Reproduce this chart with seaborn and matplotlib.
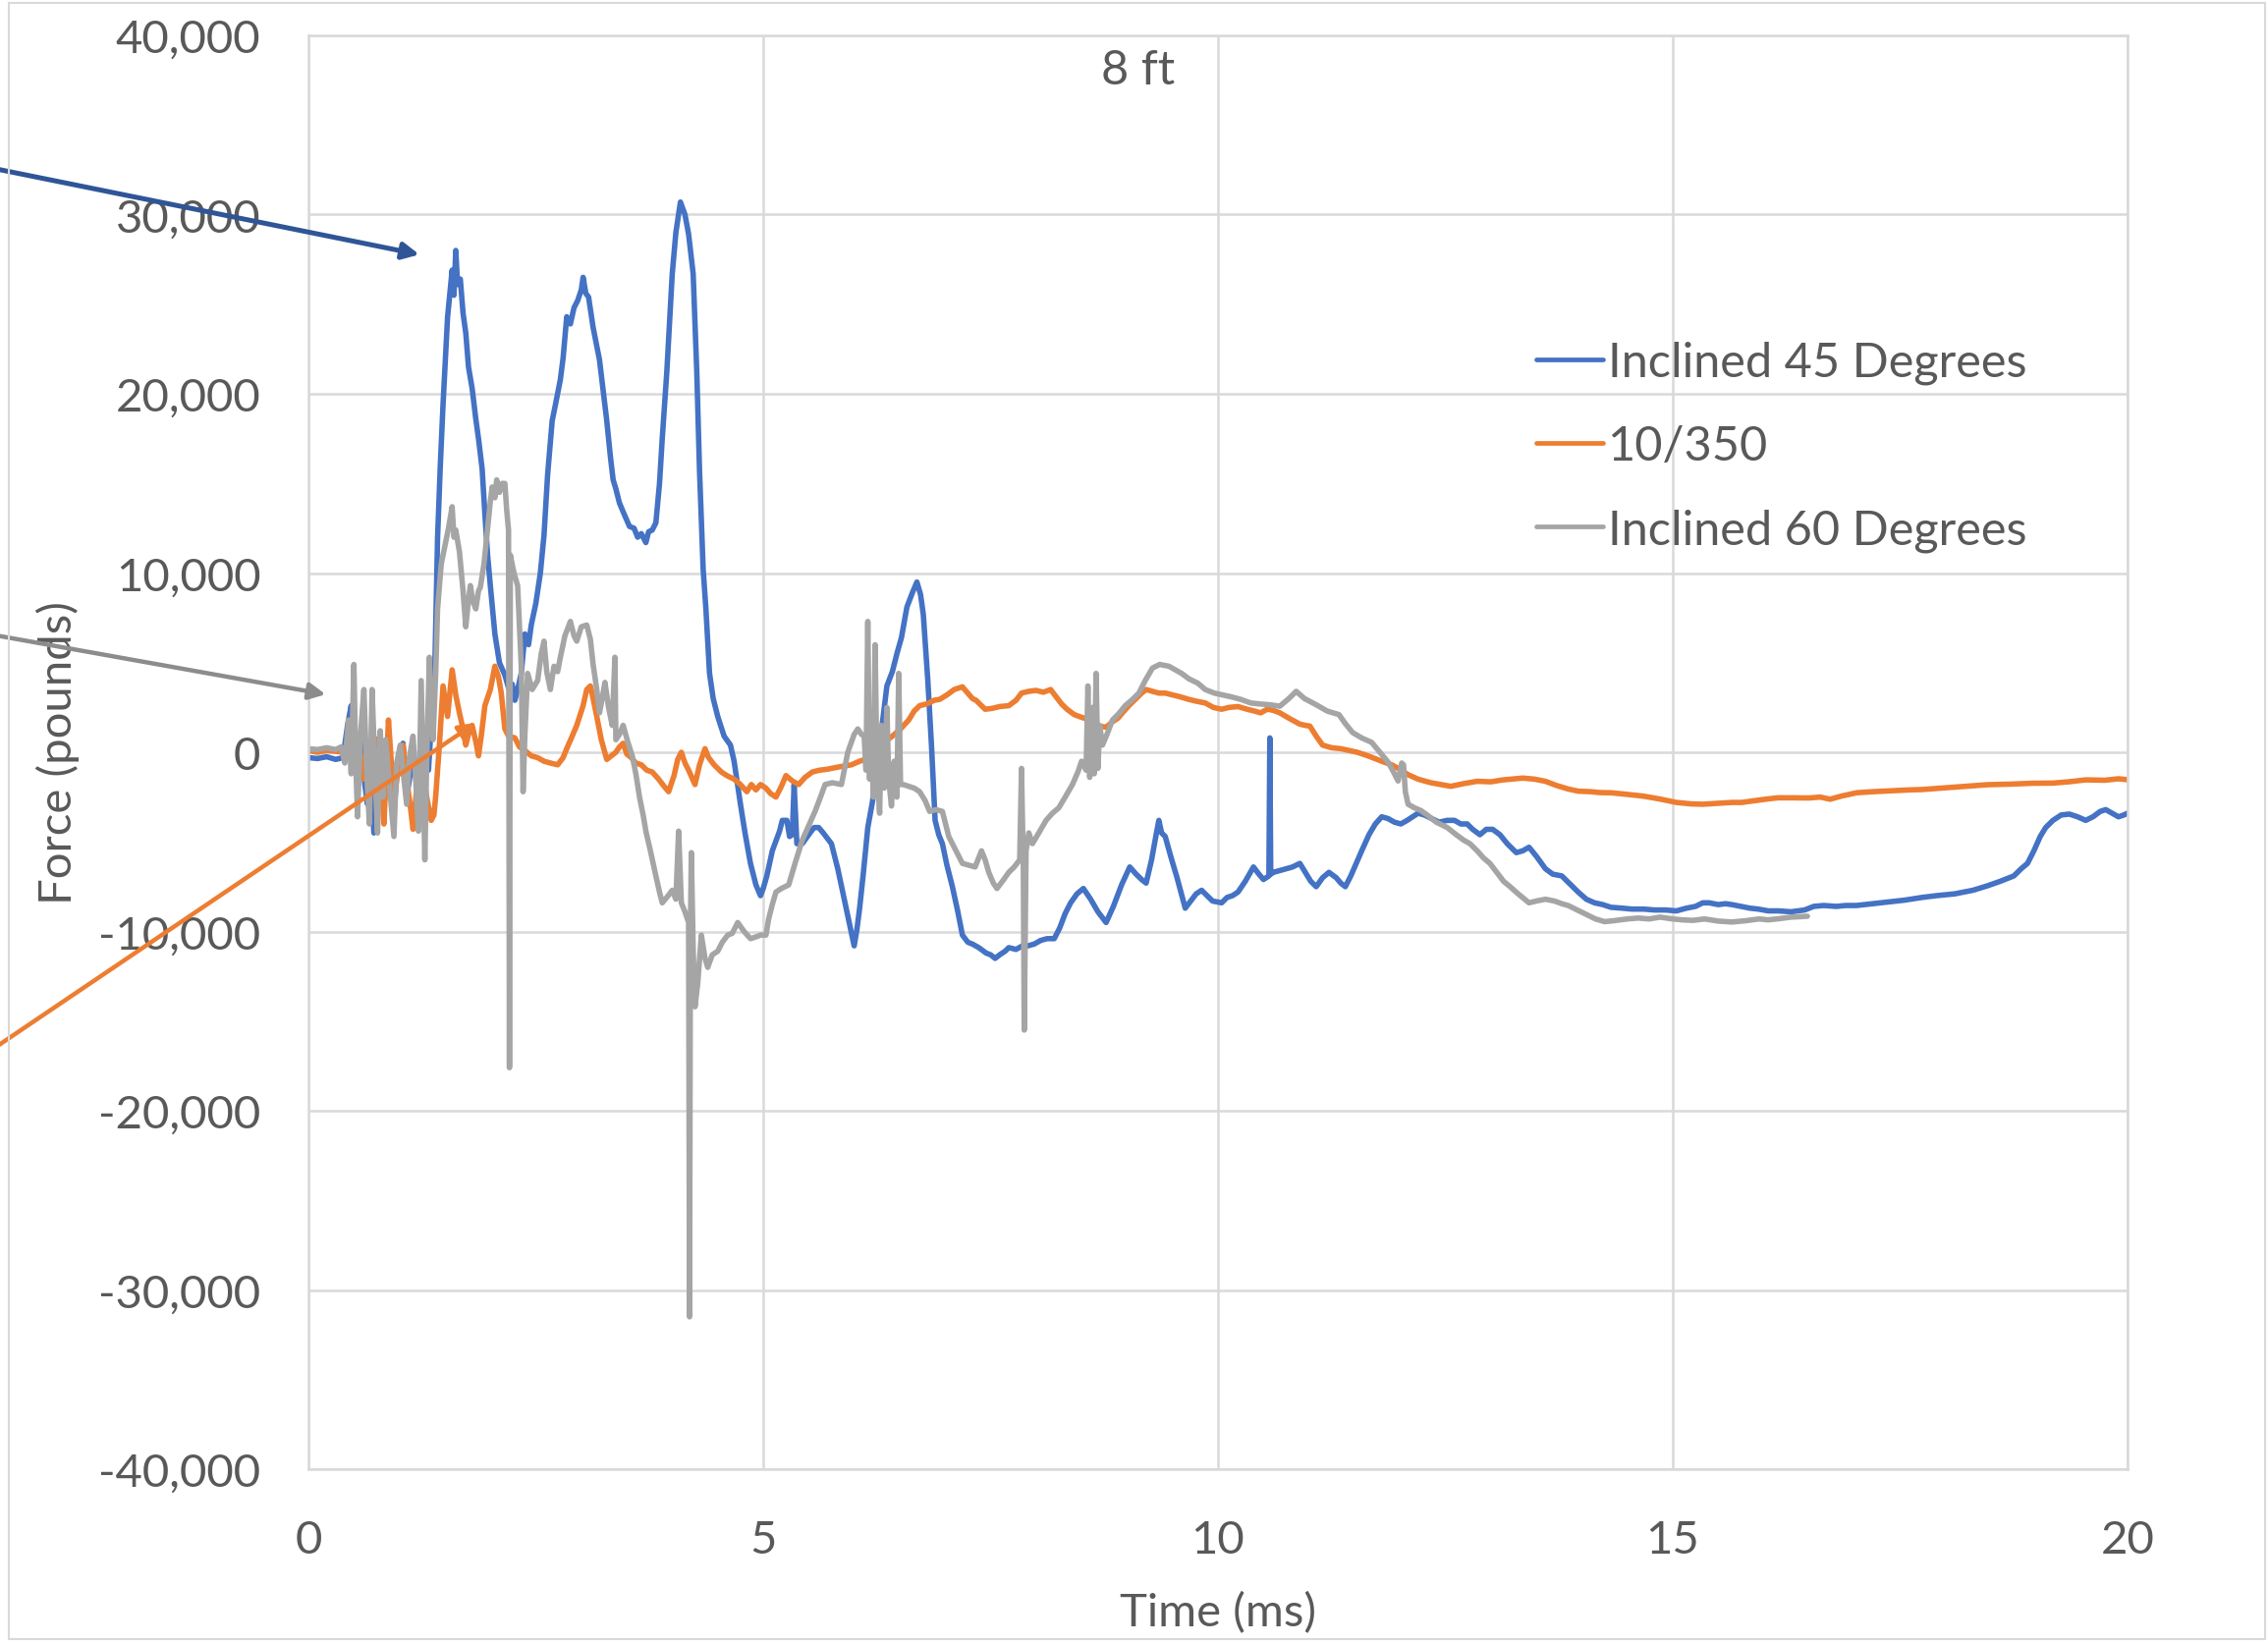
import matplotlib
matplotlib.use("Agg")
import matplotlib.pyplot as plt
from matplotlib.patches import Rectangle
from matplotlib.lines import Line2D
from matplotlib.ticker import FuncFormatter
import pandas as pd
import seaborn as sns

# ---------------- data (time in ms, force in pounds) ----------------
series_names = ["Inclined 45 Degrees", "10/350", "Inclined 60 Degrees"]
series_colors = ["#4472C4", "#ED7D31", "#A5A5A5"]

inclined_45 = [
    (0.00, -300), (0.10, -350), (0.20, -250), (0.30, -400), (0.38, -300), (0.43, 1500),
    (0.47, 2600), (0.50, -800), (0.54, -1100), (0.58, 1200), (0.62, -1800), (0.65, -2900),
    (0.68, -600), (0.72, -4500), (0.76, -1500), (0.79, -1400), (0.83, -3000), (0.87, -500),
    (0.91, -2600), (0.94, -3300), (0.98, -800), (1.01, 300), (1.04, 500), (1.08, -2500),
    (1.12, -1200), (1.16, -700), (1.20, -2000), (1.24, -400), (1.28, 300), (1.32, -1000),
    (1.35, 1500), (1.37, 2600), (1.39, 4800), (1.42, 12000), (1.45, 16000), (1.48, 19400),
    (1.53, 24300), (1.58, 26900), (1.60, 25500), (1.62, 28000), (1.64, 26100), (1.67, 26400),
    (1.70, 24500), (1.73, 23400), (1.76, 21500), (1.80, 20300), (1.84, 18600), (1.87, 17500),
    (1.91, 15800), (1.94, 13300), (1.97, 11000), (2.00, 9300), (2.05, 6600), (2.10, 5000),
    (2.16, 4300), (2.20, 3600), (2.24, 3800), (2.27, 2900), (2.30, 3500), (2.34, 4400),
    (2.38, 6600), (2.42, 6000), (2.45, 7100), (2.50, 8300), (2.55, 10000), (2.59, 12100),
    (2.63, 15500), (2.68, 18500), (2.72, 19500), (2.77, 20800), (2.80, 22000), (2.84, 24300),
    (2.88, 23900), (2.92, 24800), (2.96, 25200), (3.00, 25800), (3.02, 26500), (3.05, 25600),
    (3.08, 25400), (3.13, 23700), (3.20, 21900), (3.24, 20200), (3.28, 18500), (3.32, 16500),
    (3.35, 15200), (3.38, 14700), (3.42, 13900), (3.47, 13300), (3.53, 12600), (3.58, 12500),
    (3.62, 12000), (3.66, 12200), (3.71, 11700), (3.74, 12300), (3.78, 12400), (3.82, 12800),
    (3.86, 15000), (3.89, 17500), (3.94, 21200), (4.00, 26700), (4.04, 29000), (4.09, 30700),
    (4.14, 30000), (4.18, 28900), (4.23, 26700), (4.27, 21200), (4.30, 15700), (4.34, 10200),
    (4.37, 8000), (4.41, 4400), (4.45, 3000), (4.50, 2000), (4.57, 900), (4.64, 400),
    (4.68, -500), (4.75, -2900), (4.80, -4500), (4.86, -6200), (4.92, -7400), (4.97, -8000),
    (5.00, -7600), (5.04, -6900), (5.10, -5500), (5.18, -4400), (5.21, -3800), (5.26, -3800),
    (5.29, -4700), (5.32, -4600), (5.34, -1800), (5.37, -5100), (5.43, -5100), (5.50, -4600),
    (5.56, -4200), (5.61, -4200), (5.66, -4500), (5.75, -5100), (5.82, -6500), (5.90, -8400),
    (5.95, -9600), (6.00, -10800), (6.03, -9900), (6.06, -8700), (6.10, -6800), (6.15, -4200),
    (6.20, -2800), (6.24, -1400), (6.30, 1200), (6.36, 3700), (6.42, 4500), (6.47, 5500),
    (6.52, 6400), (6.58, 8100), (6.64, 8900), (6.69, 9500), (6.73, 8800), (6.76, 7700),
    (6.81, 4000), (6.85, 400), (6.89, -3800), (6.93, -4600), (6.97, -5100), (7.02, -6300),
    (7.08, -7500), (7.14, -8900), (7.19, -10200), (7.25, -10600), (7.30, -10700), (7.37, -10900),
    (7.45, -11200), (7.50, -11300), (7.55, -11500), (7.60, -11300), (7.66, -11100), (7.70, -10900),
    (7.78, -11000), (7.85, -10800), (7.91, -10800), (7.98, -10700), (8.05, -10500), (8.12, -10400),
    (8.20, -10400), (8.26, -9800), (8.32, -9000), (8.38, -8400), (8.45, -7900), (8.52, -7600),
    (8.60, -8200), (8.68, -8900), (8.77, -9500), (8.85, -8600), (8.94, -7400), (9.03, -6400),
    (9.10, -6800), (9.16, -7100), (9.21, -7300), (9.27, -6000), (9.32, -4600), (9.35, -3800),
    (9.38, -4500), (9.42, -4700), (9.48, -5800), (9.55, -7000), (9.64, -8700), (9.70, -8300),
    (9.76, -7900), (9.82, -7700), (9.88, -8000), (9.94, -8300), (10.04, -8400), (10.10, -8100),
    (10.16, -8000), (10.22, -7800), (10.30, -7200), (10.39, -6400), (10.45, -6800), (10.50, -7100),
    (10.56, -6900), (10.57, 800), (10.58, -6800), (10.61, -6700), (10.68, -6600), (10.75, -6500),
    (10.82, -6400), (10.90, -6200), (10.96, -6700), (11.02, -7200), (11.08, -7500), (11.15, -7000),
    (11.22, -6700), (11.30, -7000), (11.35, -7300), (11.40, -7500), (11.46, -6900), (11.52, -6200),
    (11.58, -5500), (11.66, -4600), (11.73, -4000), (11.80, -3600), (11.87, -3700), (11.94, -3900),
    (12.01, -4000), (12.08, -3800), (12.14, -3600), (12.20, -3400), (12.27, -3500), (12.35, -3700),
    (12.43, -3900), (12.52, -3800), (12.60, -3800), (12.67, -4000), (12.74, -4000), (12.80, -4300),
    (12.88, -4600), (12.95, -4300), (13.02, -4300), (13.10, -4600), (13.18, -5100), (13.28, -5600),
    (13.35, -5500), (13.42, -5300), (13.50, -5800), (13.60, -6500), (13.68, -6800), (13.78, -6900),
    (13.86, -7300), (13.96, -7800), (14.05, -8200), (14.14, -8400), (14.23, -8500), (14.32, -8650),
    (14.45, -8700), (14.55, -8750), (14.68, -8750), (14.80, -8800), (14.92, -8800), (15.04, -8850),
    (15.15, -8700), (15.25, -8600), (15.33, -8400), (15.40, -8400), (15.50, -8500), (15.58, -8450),
    (15.65, -8500), (15.75, -8600), (15.85, -8700), (15.94, -8750), (16.05, -8850), (16.16, -8850),
    (16.30, -8900), (16.45, -8800), (16.55, -8600), (16.66, -8550), (16.80, -8600), (16.90, -8550),
    (17.02, -8550), (17.20, -8450), (17.38, -8350), (17.55, -8250), (17.74, -8100), (17.90, -8000),
    (18.10, -7900), (18.30, -7700), (18.46, -7450), (18.60, -7200), (18.75, -6900), (18.83, -6500),
    (18.90, -6200), (18.97, -5500), (19.04, -4700), (19.10, -4200), (19.18, -3800), (19.27, -3500),
    (19.36, -3450), (19.45, -3600), (19.54, -3800), (19.62, -3600), (19.70, -3300), (19.76, -3200),
    (19.83, -3400), (19.90, -3600), (19.96, -3500), (20.00, -3400),
]

wave_10_350 = [
    (0.00, 100), (0.10, 0), (0.20, 100), (0.30, 50), (0.40, 0), (0.50, -200), (0.55, 800),
    (0.60, -1500), (0.65, 500), (0.70, -2000), (0.76, 750), (0.80, -1500), (0.83, -4000),
    (0.88, 1800), (0.91, -500), (0.94, -2900), (0.98, -1000), (1.04, 400), (1.08, -1500),
    (1.12, -3000), (1.15, -4300), (1.19, -2000), (1.22, -3500), (1.26, -1100), (1.30, -2500),
    (1.35, -3800), (1.38, -3500), (1.40, -2400), (1.44, 400), (1.48, 3700), (1.53, 2000),
    (1.58, 4600), (1.62, 3200), (1.66, 2200), (1.70, 1300), (1.73, 400), (1.76, 1000),
    (1.80, 1500), (1.84, 600), (1.87, -200), (1.90, 900), (1.94, 2600), (2.00, 3500),
    (2.05, 4800), (2.09, 4200), (2.12, 3300), (2.16, 1300), (2.20, 900), (2.27, 800),
    (2.32, 300), (2.38, 100), (2.45, -200), (2.52, -300), (2.59, -500), (2.66, -600),
    (2.74, -700), (2.80, -300), (2.84, 200), (2.90, 900), (2.95, 1500), (3.02, 2600),
    (3.06, 3500), (3.10, 3700), (3.13, 3000), (3.17, 2000), (3.22, 700), (3.28, -400),
    (3.33, -200), (3.38, 0), (3.42, 300), (3.46, 500), (3.50, -100), (3.55, -300),
    (3.60, -600), (3.66, -700), (3.72, -1000), (3.78, -1100), (3.85, -1500), (3.91, -1900),
    (3.96, -2200), (4.02, -1300), (4.06, -400), (4.10, 0), (4.14, -600), (4.18, -1000),
    (4.25, -1800), (4.30, -700), (4.36, 200), (4.40, -300), (4.46, -700), (4.54, -1100),
    (4.60, -1300), (4.68, -1500), (4.75, -1800), (4.82, -2200), (4.87, -1800), (4.92, -2100),
    (4.97, -1800), (5.03, -2000), (5.08, -2300), (5.14, -2500), (5.20, -1900), (5.25, -1300),
    (5.32, -1600), (5.39, -1800), (5.46, -1400), (5.54, -1100), (5.62, -1000), (5.70, -950),
    (5.75, -900), (5.85, -800), (5.97, -700), (6.06, -500), (6.15, -350), (6.24, 100),
    (6.33, 550), (6.42, 900), (6.51, 1300), (6.60, 1800), (6.66, 2300), (6.72, 2600),
    (6.80, 2700), (6.88, 2900), (6.94, 2950), (7.02, 3200), (7.10, 3500), (7.19, 3650),
    (7.25, 3300), (7.30, 3000), (7.34, 2900), (7.40, 2600), (7.44, 2400), (7.52, 2450),
    (7.60, 2550), (7.70, 2600), (7.78, 2900), (7.84, 3300), (7.92, 3400), (8.00, 3450),
    (8.08, 3350), (8.16, 3500), (8.22, 3100), (8.28, 2700), (8.34, 2400), (8.42, 2100),
    (8.50, 1950), (8.56, 1850), (8.64, 1600), (8.70, 1450), (8.77, 1400), (8.84, 1700),
    (8.90, 1900), (8.95, 2200), (9.02, 2600), (9.10, 3000), (9.16, 3300), (9.21, 3500),
    (9.28, 3400), (9.35, 3300), (9.42, 3300), (9.50, 3200), (9.58, 3100), (9.68, 2950),
    (9.76, 2850), (9.86, 2750), (9.95, 2500), (10.04, 2400), (10.12, 2500), (10.22, 2550),
    (10.32, 2400), (10.40, 2300), (10.47, 2200), (10.54, 2400), (10.60, 2350), (10.68, 2200),
    (10.78, 1900), (10.90, 1570), (10.96, 1500), (11.01, 1460), (11.08, 900), (11.15, 400),
    (11.25, 250), (11.35, 200), (11.44, 100), (11.53, 0), (11.62, -150), (11.70, -300),
    (11.80, -500), (11.91, -700), (12.00, -950), (12.09, -1250), (12.20, -1500), (12.34, -1700),
    (12.45, -1800), (12.56, -1900), (12.70, -1750), (12.85, -1620), (13.00, -1650), (13.12, -1550),
    (13.22, -1500), (13.35, -1440), (13.48, -1500), (13.60, -1620), (13.72, -1850), (13.85, -2050),
    (13.96, -2170), (14.10, -2200), (14.20, -2250), (14.32, -2260), (14.50, -2350), (14.68, -2450),
    (14.85, -2600), (15.04, -2800), (15.20, -2880), (15.33, -2900), (15.50, -2850), (15.65, -2800),
    (15.76, -2800), (15.90, -2700), (16.05, -2600), (16.16, -2540), (16.30, -2540), (16.50, -2550),
    (16.62, -2500), (16.73, -2620), (16.85, -2450), (17.02, -2260), (17.20, -2200), (17.40, -2150),
    (17.60, -2100), (17.74, -2080), (17.95, -2000), (18.20, -1900), (18.46, -1810), (18.70, -1780),
    (18.95, -1730), (19.18, -1720), (19.35, -1650), (19.54, -1540), (19.75, -1560), (19.90, -1480),
    (20.00, -1530),
]

inclined_60 = [
    (0.00, 200), (0.10, 150), (0.20, 250), (0.30, 150), (0.36, 300), (0.40, -600), (0.44, 1800),
    (0.47, -1200), (0.50, 4900), (0.52, -500), (0.54, -3600), (0.57, 800), (0.61, 3500),
    (0.64, -1000), (0.67, -4000), (0.70, 3500), (0.73, -800), (0.76, -4500), (0.79, 1200),
    (0.82, -2500), (0.85, 700), (0.89, -1800), (0.94, -4700), (0.97, -600), (1.01, 400),
    (1.05, -1500), (1.08, -2900), (1.11, -300), (1.15, 900), (1.18, -1600), (1.21, -4400),
    (1.24, 4000), (1.26, -1000), (1.28, -6000), (1.30, -500), (1.33, 5300), (1.35, 2000),
    (1.37, 700), (1.40, 4500), (1.42, 8000), (1.46, 10500), (1.50, 11500), (1.54, 12500),
    (1.58, 13700), (1.60, 12000), (1.62, 12400), (1.66, 11200), (1.70, 9000), (1.73, 7000),
    (1.76, 8500), (1.78, 9300), (1.81, 8400), (1.84, 8000), (1.87, 9000), (1.89, 9200),
    (1.93, 10500), (1.96, 12000), (2.00, 14000), (2.02, 14800), (2.05, 14200), (2.07, 15200),
    (2.10, 14500), (2.13, 15000), (2.16, 15000), (2.18, 13500), (2.20, 12400), (2.21, -17600),
    (2.22, 11000), (2.26, 10000), (2.30, 9300), (2.34, 4800), (2.36, -2200), (2.38, 1000),
    (2.41, 4400), (2.46, 3500), (2.52, 4000), (2.56, 5500), (2.59, 6200), (2.62, 4500),
    (2.66, 3500), (2.70, 4800), (2.74, 4500), (2.77, 5300), (2.82, 6500), (2.88, 7300),
    (2.92, 6500), (2.95, 6200), (3.00, 7000), (3.06, 7100), (3.10, 6300), (3.13, 4900),
    (3.17, 3500), (3.20, 2200), (3.23, 3000), (3.26, 3900), (3.30, 2500), (3.34, 1500),
    (3.37, 5300), (3.38, 700), (3.42, 1000), (3.46, 1500), (3.51, 600), (3.56, -200),
    (3.60, -1200), (3.64, -2500), (3.68, -3500), (3.71, -4400), (3.76, -5500), (3.82, -6900),
    (3.86, -7800), (3.89, -8400), (3.94, -8100), (4.00, -7700), (4.04, -8200), (4.07, -4400),
    (4.10, -8400), (4.14, -8900), (4.18, -9500), (4.19, -31500), (4.20, -9800), (4.21, -5600),
    (4.23, -11000), (4.25, -14200), (4.28, -12900), (4.32, -10200), (4.36, -11500), (4.39, -12000),
    (4.44, -11300), (4.50, -11100), (4.55, -10600), (4.61, -10200), (4.66, -10100), (4.72, -9500),
    (4.79, -10000), (4.86, -10400), (4.92, -10300), (4.97, -10200), (5.03, -10200), (5.06, -9300),
    (5.10, -8500), (5.14, -7800), (5.20, -7600), (5.28, -7400), (5.35, -6200), (5.43, -4900),
    (5.50, -4100), (5.57, -3300), (5.63, -2500), (5.68, -1800), (5.76, -1700), (5.86, -1800),
    (5.93, 0), (6.00, 1000), (6.04, 1300), (6.08, 1000), (6.11, 900), (6.13, -1000),
    (6.15, 7300), (6.17, -1500), (6.19, 2000), (6.21, -2500), (6.23, 6000), (6.25, -800),
    (6.28, -3400), (6.30, 1500), (6.33, -2000), (6.36, 2500), (6.38, -1500), (6.41, -3000),
    (6.44, -500), (6.47, -2500), (6.49, 4400), (6.51, -1800), (6.54, -1800), (6.60, -1900),
    (6.66, -2000), (6.72, -2200), (6.78, -2700), (6.83, -3300), (6.90, -3200), (6.97, -3300),
    (7.04, -4700), (7.10, -5300), (7.19, -6200), (7.26, -6300), (7.33, -6400), (7.40, -5500),
    (7.44, -6000), (7.48, -6700), (7.53, -7300), (7.57, -7600), (7.63, -7200), (7.70, -6700),
    (7.76, -6400), (7.82, -6000), (7.84, -900), (7.86, -6500), (7.87, -15500), (7.89, -5500),
    (7.92, -4500), (7.96, -5100), (8.03, -4500), (8.11, -3800), (8.18, -3400), (8.25, -3100),
    (8.32, -2500), (8.40, -1800), (8.46, -1100), (8.50, -500), (8.55, -1000), (8.57, 3700),
    (8.59, -1400), (8.62, 2500), (8.64, -1200), (8.66, 4400), (8.68, -900), (8.70, 1500),
    (8.73, 400), (8.78, 1000), (8.84, 1800), (8.90, 2100), (8.98, 2600), (9.05, 2900),
    (9.13, 3300), (9.20, 4000), (9.28, 4700), (9.36, 4900), (9.46, 4800), (9.53, 4600),
    (9.60, 4400), (9.68, 4100), (9.78, 3850), (9.86, 3500), (9.96, 3300), (10.05, 3200),
    (10.14, 3100), (10.25, 2950), (10.36, 2750), (10.45, 2700), (10.57, 2650), (10.68, 2570),
    (10.78, 3000), (10.86, 3400), (10.95, 3000), (11.08, 2650), (11.20, 2300), (11.33, 2100),
    (11.40, 1600), (11.48, 1100), (11.58, 800), (11.69, 550), (11.78, 0), (11.87, -550),
    (11.93, -1100), (11.98, -1600), (12.02, -600), (12.04, -700), (12.06, -2200), (12.09, -2900),
    (12.16, -3100), (12.23, -3250), (12.30, -3500), (12.40, -3900), (12.52, -4200), (12.62, -4600),
    (12.70, -4900), (12.77, -5100), (12.85, -5500), (12.92, -5900), (12.99, -6200), (13.08, -6800),
    (13.14, -7200), (13.20, -7450), (13.30, -7900), (13.42, -8400), (13.50, -8300), (13.60, -8200),
    (13.70, -8300), (13.78, -8450), (13.85, -8550), (13.95, -8800), (14.07, -9100), (14.15, -9300),
    (14.25, -9450), (14.35, -9400), (14.50, -9300), (14.62, -9250), (14.74, -9300), (14.86, -9200),
    (15.00, -9300), (15.10, -9350), (15.22, -9380), (15.35, -9300), (15.50, -9420), (15.65, -9470),
    (15.80, -9400), (15.95, -9300), (16.05, -9350), (16.16, -9290), (16.30, -9200), (16.48, -9150),
]

x_ticks = [0, 5, 10, 15, 20]
y_ticks = [-40000, -30000, -20000, -10000, 0, 10000, 20000, 30000, 40000]
title_text = "8 ft"
x_label = "Time (ms)"
y_label = "Force (pounds)"

# ---------------- build long-form table ----------------
rows = []
for name, pts in zip(series_names, [inclined_45, wave_10_350, inclined_60]):
    for i, (t, f) in enumerate(pts):
        rows.append({"t": t, "F": f, "series": name, "order": i})
df = pd.DataFrame(rows)

# ---------------- styling ----------------
sns.set_theme(style="white")
plt.rcParams["font.family"] = ["Lato", "DejaVu Sans"]
TEXT = "#595959"
GRID = "#D9D9D9"
W, H = 2309, 1674
LW = 4.0

fig = plt.figure(figsize=(W / 100, H / 100), dpi=100)
fig.patch.set_facecolor("white")
ax = fig.add_axes([314 / W, 1 - 1497 / H, (2166 - 314) / W, (1497 - 37) / H])

sns.lineplot(
    data=df, x="t", y="F", hue="series", hue_order=series_names,
    palette=dict(zip(series_names, series_colors)), estimator=None, sort=False,
    units="series", legend=False, linewidth=LW, ax=ax,
)

ax.set_xlim(0, 20)
ax.set_ylim(-40000, 40000)
ax.set_xticks(x_ticks)
ax.set_yticks(y_ticks)
ax.yaxis.set_major_formatter(FuncFormatter(lambda v, p: f"{int(v):,}"))
ax.grid(True, color=GRID, linewidth=1.8)
ax.set_axisbelow(True)
for sp in ax.spines.values():
    sp.set_color(GRID)
    sp.set_linewidth(1.8)
ax.tick_params(axis="both", length=0, labelsize=34, labelcolor=TEXT)
ax.tick_params(axis="y", pad=35)
ax.tick_params(axis="x", pad=37)

ax.set_xlabel(x_label, fontsize=34, color=TEXT)
ax.xaxis.set_label_coords(0.5, (1497 - 1643) / 1460)
ax.xaxis.label.set_va("center")
ax.set_ylabel(y_label, fontsize=34, color=TEXT)
ax.yaxis.set_label_coords((59 - 314) / 1852, 0.5)
ax.yaxis.label.set_va("center")

ax.text((1159 - 314) / 1852, 1 - (72 - 37) / 1460, title_text, transform=ax.transAxes,
        ha="center", va="center", fontsize=35, color=TEXT)

handles = [Line2D([], [], color=c, lw=3.4) for c in series_colors]
leg = ax.legend(handles, series_names, loc="upper left", bbox_to_anchor=(0.675, 0.787),
                frameon=False, fontsize=35, handlelength=1.39, handletextpad=0.1,
                labelspacing=0.84, borderpad=0, borderaxespad=0, labelcolor=TEXT)

# pointer arrows from the left margin
arrow_specs = [
    ((1.22, 27770), (-4, H - 173), "#2F5597", 3.6),
    ((0.19, 3230), (-4, H - 648), "#8C8C8C", 3.2),
    ((1.84, 1640), (-4, H - 1067), "#ED7D31", 3.2),
]
for tip, tail, col, lw in arrow_specs:
    ax.annotate("", xy=tip, xycoords="data", xytext=tail, textcoords="figure pixels",
                arrowprops=dict(arrowstyle="-|>", color=col, lw=lw, mutation_scale=25,
                                shrinkA=0, shrinkB=0),
                annotation_clip=False)

# outer chart border
fig.add_artist(Rectangle((9 / W, 4 / H), (2306 - 9) / W, (1670 - 4) / H,
                         transform=fig.transFigure, fill=False, ec=GRID, lw=1.5))

fig.savefig("out.png", dpi=100, facecolor="white")
